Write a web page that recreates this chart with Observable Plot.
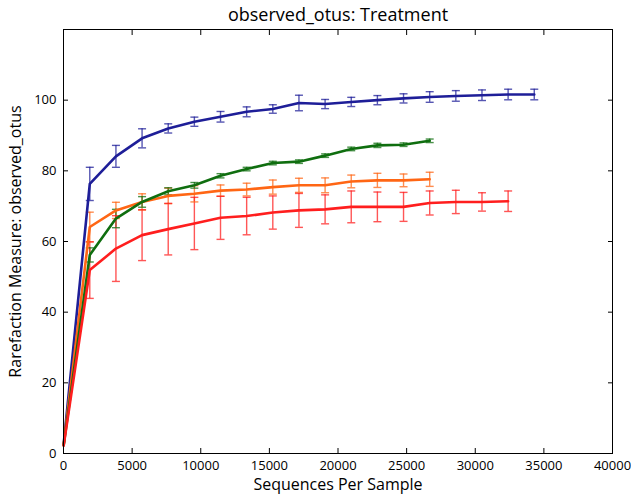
<!DOCTYPE html>
<html>
<head>
<meta charset="utf-8">
<script src="https://cdn.jsdelivr.net/npm/d3@7"></script>
<script src="https://cdn.jsdelivr.net/npm/@observablehq/plot@0.6"></script>
<style>
  html, body { margin: 0; padding: 0; background: #fff; }
  #chart svg { display: block; }
</style>
</head>
<body>
<div id="chart"></div>
<script>
// Rarefaction depths (sequences per sample)
const depths = [10, 1915, 3820, 5725, 7630, 9535, 11440, 13345, 15250, 17155, 19060, 20965, 22870, 24775, 26680, 28585, 30490, 32395, 34300];

// Series means and error half-widths (observed_otus)
const blueMean = [2.6, 76.3, 84.1, 89.2, 92.0, 93.9, 95.3, 96.7, 97.5, 99.2, 98.9, 99.5, 100.0, 100.5, 100.9, 101.2, 101.4, 101.6, 101.6];
const blueErr  = [0, 4.7, 3.1, 2.7, 1.3, 1.3, 1.5, 1.4, 1.2, 2.2, 1.3, 1.3, 1.3, 1.3, 1.5, 1.5, 1.5, 1.5, 1.5];

const greenMean = [2.3, 56.2, 66.5, 71.2, 74.2, 75.9, 78.6, 80.5, 82.2, 82.6, 84.3, 86.2, 87.2, 87.4, 88.5];
const greenErr  = [0, 2.0, 2.6, 1.5, 1.0, 0.8, 0.6, 0.5, 0.5, 0.5, 0.5, 0.5, 0.6, 0.5, 0.5];

const orangeMean = [2.5, 64.1, 68.8, 71.2, 72.9, 73.5, 74.4, 74.7, 75.4, 75.9, 75.9, 77.0, 77.3, 77.3, 77.6];
const orangeErr  = [0, 4.2, 2.3, 2.3, 2.2, 2.3, 1.6, 1.8, 2.0, 2.0, 2.1, 1.8, 2.0, 1.8, 2.0];

const redMean = [2.2, 51.9, 58.0, 61.8, 63.5, 65.1, 66.7, 67.2, 68.2, 68.8, 69.1, 69.8, 69.8, 69.8, 70.9, 71.2, 71.2, 71.4];
const redErr  = [0, 8.0, 9.3, 7.2, 7.3, 7.4, 6.1, 5.3, 4.7, 4.8, 4.1, 4.5, 4.2, 4.1, 3.4, 3.3, 2.6, 2.9];

const seriesNames = ["group 1", "group 2", "group 3", "group 4"];
const seriesColors = ["#1e1e98", "#ff6614", "#0f6e0f", "#ff1e1e"];

const xTicks = [0, 5000, 10000, 15000, 20000, 25000, 30000, 35000, 40000];
const yTicks = [0, 20, 40, 60, 80, 100];
const yTicksAll = [0, 20, 40, 60, 80, 100, 120];

const title = "observed_otus: Treatment";
const xLabel = "Sequences Per Sample";
const yLabel = "Rarefaction Measure: observed_otus";

// Build tidy rows
function rows(name, means, errs) {
  return means.map((m, i) => ({series: name, depth: depths[i], mean: m, err: errs[i], lo: m - errs[i], hi: m + errs[i]}));
}
const data = [
  ...rows(seriesNames[0], blueMean, blueErr),
  ...rows(seriesNames[1], orangeMean, orangeErr),
  ...rows(seriesNames[2], greenMean, greenErr),
  ...rows(seriesNames[3], redMean, redErr)
];
const errData = data.filter(d => d.err > 0);

const capSymbol = {
  draw(context, size) {
    const r = 4;
    context.moveTo(-r, 0);
    context.lineTo(r, 0);
  }
};

const font = "'Open Sans', 'DejaVu Sans', sans-serif";

const chart = Plot.plot({
  width: 631,
  height: 496,
  marginLeft: 63,
  marginRight: 19,
  marginTop: 29,
  marginBottom: 43,
  style: {fontFamily: font, fontSize: "13px", background: "#fff", color: "#000"},
  x: {domain: [0, 40000]},
  y: {domain: [0, 120]},
  color: {domain: seriesNames, range: seriesColors},
  marks: [
    // error bars
    Plot.ruleX(errData, {x: "depth", y1: "lo", y2: "hi", stroke: "series", strokeWidth: 1.4, strokeOpacity: 0.75}),
    Plot.dot(errData, {x: "depth", y: "lo", symbol: capSymbol, stroke: "series", strokeWidth: 1.4, strokeOpacity: 0.75, r: 4}),
    Plot.dot(errData, {x: "depth", y: "hi", symbol: capSymbol, stroke: "series", strokeWidth: 1.4, strokeOpacity: 0.75, r: 4}),
    // mean lines
    Plot.line(data, {x: "depth", y: "mean", z: "series", stroke: "series", strokeWidth: 2.6}),
    Plot.frame({stroke: "#000", strokeWidth: 1}),
    Plot.axisX({anchor: "bottom", ticks: xTicks, tickSize: -5, tickPadding: 12, tickFormat: d3.format("d"),
      fontSize: 13, label: null}),
    Plot.axisX({anchor: "top", ticks: xTicks, tickSize: -5, tickFormat: () => "", label: null}),
    Plot.axisY({anchor: "left", ticks: yTicks, tickSize: -5, tickPadding: 12, tickFormat: d3.format("d"),
      fontSize: 13, label: null}),
    Plot.axisY({anchor: "right", ticks: yTicksAll, tickSize: -5, tickFormat: () => "", label: null}),
    Plot.text([xLabel], {frameAnchor: "bottom", dy: 31, text: d => d, fontSize: 16, lineAnchor: "middle"}),
    Plot.text([yLabel], {frameAnchor: "left", dx: -48, rotate: -90, text: d => d, fontSize: 16, textAnchor: "middle", lineAnchor: "middle"}),
    Plot.text([title], {frameAnchor: "top", dy: -14, text: d => d, fontSize: 18, lineAnchor: "middle"})
  ]
});
document.getElementById("chart").appendChild(chart);
</script>
</body>
</html>
